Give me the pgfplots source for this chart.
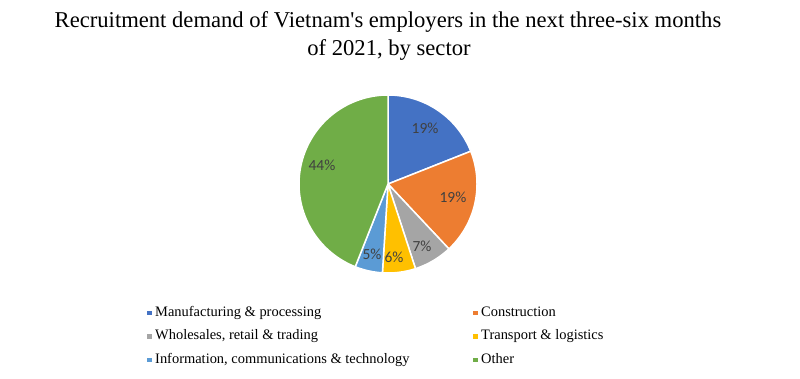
\documentclass[border=0pt]{standalone}
\usepackage{pgfplots}
\pgfplotsset{compat=1.18}
\usepackage{fontspec}
\setmainfont{Liberation Serif}
\newfontfamily\plainserif{Liberation Serif}[Ligatures=TeXOff]
\newfontfamily\lblfont{Carlito}
\definecolor{cA}{HTML}{4472C4}
\definecolor{cB}{HTML}{ED7D31}
\definecolor{cC}{HTML}{A5A5A5}
\definecolor{cD}{HTML}{FFC000}
\definecolor{cE}{HTML}{5B9BD5}
\definecolor{cF}{HTML}{70AD47}
\definecolor{lbl}{HTML}{404040}
\begin{document}
\begin{tikzpicture}
% shares of the six sectors, in percent
\def\vA{19}\def\vB{19}\def\vC{7}\def\vD{6}\def\vE{5}\def\vF{44}
\pgfmathsetmacro\sA{90}
\pgfmathsetmacro\eA{\sA-3.6*\vA}
\pgfmathsetmacro\eB{\eA-3.6*\vB}
\pgfmathsetmacro\eC{\eB-3.6*\vC}
\pgfmathsetmacro\eD{\eC-3.6*\vD}
\pgfmathsetmacro\eE{\eD-3.6*\vE}
\pgfmathsetmacro\eF{\eE-3.6*\vF}
\fill[white] (0,0) rectangle (800bp,379bp);
\path[use as bounding box] (0,0) rectangle (800bp,379bp);
\node[anchor=base, font=\plainserif\fontsize{22.7}{26}\selectfont] at (388bp,351bp) {Recruitment demand of Vietnam's employers in the next three-six months};
\node[anchor=base, font=\plainserif\fontsize{22.7}{26}\selectfont] at (389bp,323bp) {of 2021, by sector};
\begin{axis}[
  hide axis, clip=false,
  x=89bp, y=89bp,
  xmin=-1.1, xmax=1.1, ymin=-1.1, ymax=1.1,
  at={(388bp,195bp)}, anchor=center,
  legend columns=2,
  legend image code/.code={\fill[draw=none] (0bp,-2.5bp) rectangle (4.5bp,2bp);},
  legend style={draw=none, fill=none, at={(-0.7308,-0.1231)}, anchor=north west,
    inner sep=0pt, font=\fontsize{14.5}{16}\selectfont,
    nodes={inner sep=0pt, text height=10bp, text depth=3bp},
    row sep=10.5bp,
    /tikz/every odd column/.append style={column sep=3.5bp},
    /tikz/every even column/.append style={column sep=0bp},
    cells={anchor=west}},
  every axis plot/.append style={draw=white, line width=1.5bp, samples=80},
]
\addplot[fill=cA, domain=\eA:\sA] ({cos(x)},{sin(x)}) -- (axis cs:0,0) -- cycle;
\addlegendentry{\makebox[318bp][l]{Manufacturing \& processing}}
\addplot[fill=cB, domain=\eB:\eA] ({cos(x)},{sin(x)}) -- (axis cs:0,0) -- cycle;
\addlegendentry{Construction}
\addplot[fill=cC, domain=\eC:\eB] ({cos(x)},{sin(x)}) -- (axis cs:0,0) -- cycle;
\addlegendentry{\makebox[318bp][l]{Wholesales, retail \& trading}}
\addplot[fill=cD, domain=\eD:\eC] ({cos(x)},{sin(x)}) -- (axis cs:0,0) -- cycle;
\addlegendentry{Transport \& logistics}
\addplot[fill=cE, domain=\eE:\eD] ({cos(x)},{sin(x)}) -- (axis cs:0,0) -- cycle;
\addlegendentry{\makebox[318bp][l]{Information, communications \& technology}}
\addplot[fill=cF, domain=\eF:\eE] ({cos(x)},{sin(x)}) -- (axis cs:0,0) -- cycle;
\addlegendentry{Other}
\begin{scope}[every node/.style={font=\lblfont\fontsize{15.5}{17}\selectfont, text=lbl}]
\node at (axis cs:0.416,0.629) {19\%};
\node at (axis cs:0.730,-0.146) {19\%};
\node at (axis cs:0.382,-0.697) {7\%};
\node at (axis cs:0.067,-0.820) {6\%};
\node at (axis cs:-0.180,-0.787) {5\%};
\node at (axis cs:-0.742,0.213) {44\%};
\end{scope}
\end{axis}
\end{tikzpicture}
\end{document}
